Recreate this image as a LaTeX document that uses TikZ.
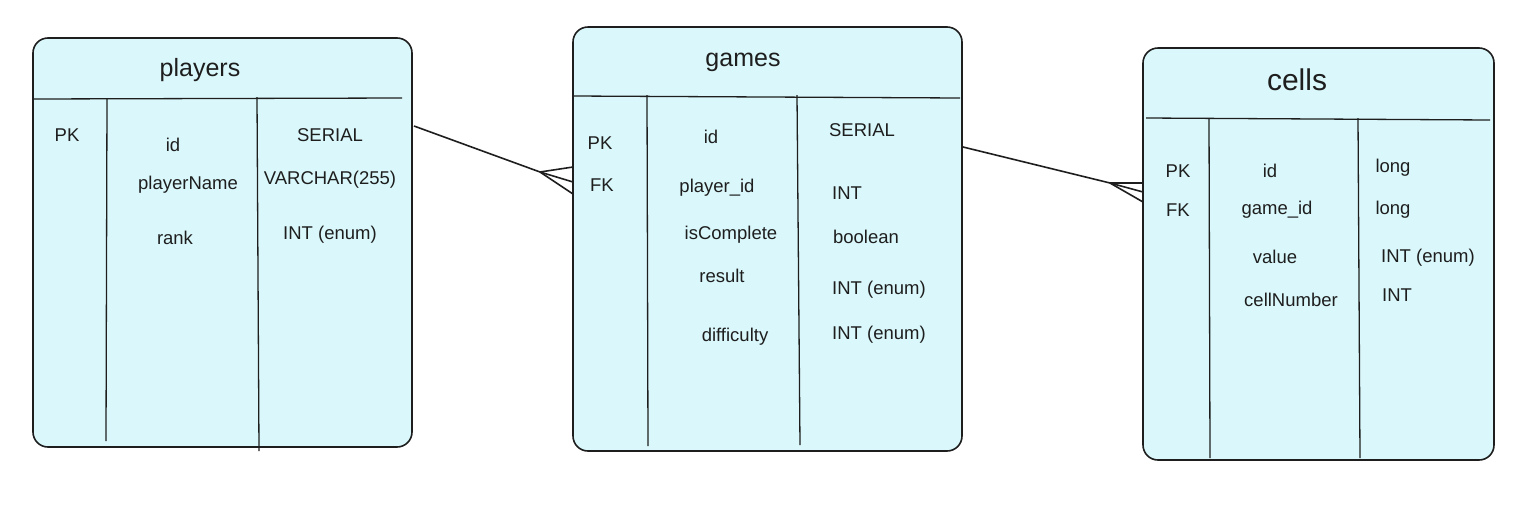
\documentclass[tikz,border=0pt]{standalone}
\usepackage{fontspec}
\setmainfont{Liberation Sans}
\usepackage{tikz}

\definecolor{tablefill}{RGB}{218,248,251}
\definecolor{ink}{RGB}{30,30,30}

\tikzset{
  tbl/.style={draw=ink, line width=1.6pt, fill=tablefill, rounded corners=15pt},
  rulel/.style={draw=ink, line width=1.3pt},
  link/.style={draw=ink, line width=1.6pt},
  fld/.style={inner sep=0.75pt, text=ink, font=\fontsize{18.5}{22}\selectfont},
  ttl/.style={inner sep=0.75pt, text=ink, font=\fontsize{25}{30}\selectfont},
}

\begin{document}
\begin{tikzpicture}[x=1pt,y=1pt,yscale=-1,xscale=1]
\useasboundingbox (0,0) rectangle (1539,504);

%Rounded Rect [players]
\draw[tbl] (33,38) rectangle (412,447) ;
%Straight Lines
\draw[rulel] (33,99) -- (402,98) ;
\draw[rulel] (107,99) -- (106,441) ;
\draw[rulel] (257,97) -- (259,451) ;

%Rounded Rect [games]
\draw[tbl] (573,27) rectangle (962,451) ;
%Straight Lines
\draw[rulel] (573,96) -- (960,98) ;
\draw[rulel] (647,95) -- (648,446) ;
\draw[rulel] (797,95) -- (800,445) ;

%Rounded Rect [cells]
\draw[tbl] (1143,48) rectangle (1494,460) ;
%Straight Lines
\draw[rulel] (1146,118) -- (1490,120) ;
\draw[rulel] (1209,118) -- (1210,458) ;
\draw[rulel] (1358,118) -- (1360,458) ;

% Text Node
\draw (200,70) node [ttl] (tplayers) {players};
\draw (67,135) node [fld] (ppk) {PK};
\draw (173,145) node [fld] (pid) {id};
\draw (188,185) node [fld] (pname) {playerName};
\draw (175,238) node [fld] (prank) {rank};
\draw (330,135) node [fld] (pidt) {SERIAL};
\draw (330,180) node [fld] (pnamet) {VARCHAR(255)};
\draw (330,235) node [fld] (prankt) {INT (enum)};

% Text Node
\draw (743,62) node [ttl] (tgames) {games};
\draw (600,143) node [fld] (gpk) {PK};
\draw (602,185) node [fld] (gfk) {FK};
\draw (711,137) node [fld] (gid) {id};
\draw (717,188) node [fld] (gplayer) {player\_id};
\draw (731,235) node [fld] (gcomplete) {isComplete};
\draw (722,276) node [fld] (gresult) {result};
\draw (735,337) node [fld] (gdiff) {difficulty};
\draw (862,130) node [fld] (gidt) {SERIAL};
\draw (847,193) node [fld] (gplayert) {INT};
\draw (866,237) node [fld] (gcompletet) {boolean};
\draw (879,290) node [fld] (gresultt) {INT (enum)};
\draw (879,335) node [fld] (gdifft) {INT (enum)};

% Text Node
\draw (1297,80) node [ttl, font=\fontsize{30}{36}\selectfont] (tcells) {cells};
\draw (1178,171) node [fld] (cpk) {PK};
\draw (1178,210) node [fld] (cfk) {FK};
\draw (1270,171) node [fld] (cid) {id};
\draw (1277,210) node [fld] (cgame) {game\_id};
\draw (1275,257) node [fld] (cvalue) {value};
\draw (1291,300) node [fld] (cnumber) {cellNumber};
\draw (1393,168) node [fld] (cidt) {long};
\draw (1393,210) node [fld] (cgamet) {long};
\draw (1428,258) node [fld] (cvaluet) {INT (enum)};
\draw (1397,295) node [fld] (cnumbert) {INT};

%Crow foot players -> games
\coordinate (pg0) at (414,126);
\coordinate (pgf) at (540,172);
\coordinate (pga) at (573,167);
\coordinate (pgb) at (573,182);
\coordinate (pgc) at (573,194);
\draw[link] (pg0) -- (pgf) ;
\draw[link] (pgf) -- (pga) ;
\draw[link] (pgf) -- (pgb) ;
\draw[link] (pgf) -- (pgc) ;

%Crow foot games -> cells
\coordinate (gc0) at (963,147);
\coordinate (gcf) at (1110,183);
\coordinate (gca) at (1143,183);
\coordinate (gcb) at (1143,192);
\coordinate (gcc) at (1143,202);
\draw[link] (gc0) -- (gcf) ;
\draw[link] (gcf) -- (gca) ;
\draw[link] (gcf) -- (gcb) ;
\draw[link] (gcf) -- (gcc) ;

\end{tikzpicture}
\end{document}
